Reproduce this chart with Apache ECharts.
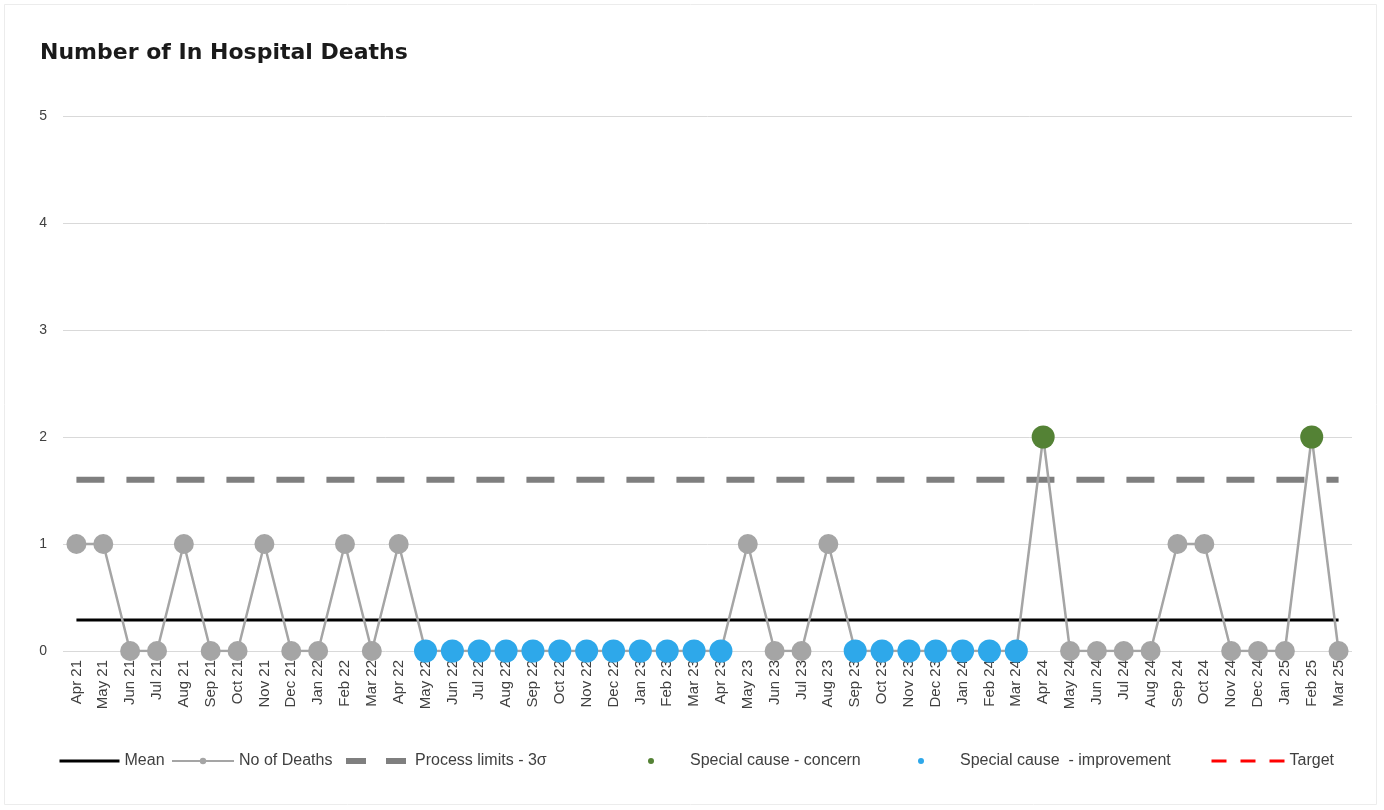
<!DOCTYPE html>
<html>
<head>
<meta charset="utf-8">
<title>Number of In Hospital Deaths</title>
<script src="https://cdn.jsdelivr.net/npm/echarts@6/dist/echarts.min.js"></script>
<style>
    html, body { margin: 0; padding: 0; background: #fff; }
    #chart { width: 1384px; height: 810px; }
</style>
</head>
<body>
<div id="chart"></div>
<script>
var categories = ['Apr 21', 'May 21', 'Jun 21', 'Jul 21', 'Aug 21', 'Sep 21', 'Oct 21', 'Nov 21', 'Dec 21',
    'Jan 22', 'Feb 22', 'Mar 22', 'Apr 22', 'May 22', 'Jun 22', 'Jul 22', 'Aug 22', 'Sep 22', 'Oct 22',
    'Nov 22', 'Dec 22', 'Jan 23', 'Feb 23', 'Mar 23', 'Apr 23', 'May 23', 'Jun 23', 'Jul 23', 'Aug 23',
    'Sep 23', 'Oct 23', 'Nov 23', 'Dec 23', 'Jan 24', 'Feb 24', 'Mar 24', 'Apr 24', 'May 24', 'Jun 24',
    'Jul 24', 'Aug 24', 'Sep 24', 'Oct 24', 'Nov 24', 'Dec 24', 'Jan 25', 'Feb 25', 'Mar 25'];
var deaths = [1, 1, 0, 0, 1, 0, 0, 1, 0, 0, 1, 0, 1,
    0, 0, 0, 0, 0, 0, 0, 0, 0, 0, 0, 0,
    1, 0, 0, 1,
    0, 0, 0, 0, 0, 0, 0,
    2, 0, 0, 0, 0, 1, 1, 0, 0, 0, 2, 0];
var concernMonths = ['Apr 24', 'Feb 25'];
var improvementMonths = ['May 22', 'Jun 22', 'Jul 22', 'Aug 22', 'Sep 22', 'Oct 22', 'Nov 22', 'Dec 22',
    'Jan 23', 'Feb 23', 'Mar 23', 'Apr 23', 'Sep 23', 'Oct 23', 'Nov 23', 'Dec 23', 'Jan 24', 'Feb 24', 'Mar 24'];
var meanValue = 0.29;
var upperLimit = 1.6;
var yTicks = [0, 5, 1]; // min, max, interval

var chart = echarts.init(document.getElementById('chart'));

function pick(months) {
    return months.map(function (m) {
        return [m, deaths[categories.indexOf(m)]];
    });
}

var font = 'Liberation Sans, Arial, sans-serif';

// one legend per entry so each sits where the original put it
function legendAt(name, left, w, h, extra) {
    var lg = {
        data: [name],
        left: left,
        top: 753,
        itemWidth: w,
        itemHeight: h,
        itemGap: 0,
        padding: 0,
        selectedMode: false,
        textStyle: { color: '#404040', fontSize: 16, fontFamily: font }
    };
    for (var k in extra) {
        lg[k] = extra[k];
    }
    return lg;
}

var option = {
    backgroundColor: '#fff',
    animation: false,
    title: {
        text: 'Number of In Hospital Deaths',
        left: 35,
        top: 37,
        textStyle: { fontFamily: 'DejaVu Sans, sans-serif', fontWeight: 'bold', fontSize: 22, color: '#1a1a1a' }
    },
    graphic: [{
        type: 'rect',
        shape: { x: 4.5, y: 4.5, width: 1372, height: 800 },
        style: { fill: 'none', stroke: '#ececec', lineWidth: 1 },
        silent: true
    }],
    legend: [
        legendAt('Mean', 58, 60, 10, {
            itemStyle: { opacity: 0 },
            lineStyle: { width: 3 }
        }),
        legendAt('No of Deaths', 171, 62, 8, {
            lineStyle: { width: 2 }
        }),
        legendAt('Process limits - 3σ', 343, 64, 10, {
            itemStyle: { opacity: 0 },
            lineStyle: { width: 6, type: [20, 20] }
        }),
        legendAt('Special cause - concern', 648, 6, 6, {
            textStyle: { color: '#404040', fontSize: 16, fontFamily: font, padding: [0, 0, 0, 31] }
        }),
        legendAt('Special cause  - improvement', 918, 6, 6, {
            textStyle: { color: '#404040', fontSize: 16, fontFamily: font, padding: [0, 0, 0, 31] }
        }),
        legendAt('Target', 1210, 73, 10, {
            itemStyle: { opacity: 0 },
            lineStyle: { width: 3, type: [15, 14] }
        })
    ],
    grid: { left: 63, right: 32, top: 116, bottom: 159 },
    xAxis: {
        type: 'category',
        data: categories,
        boundaryGap: true,
        axisLine: { show: false },
        axisTick: { show: false },
        axisLabel: {
            interval: 0,
            rotate: 90,
            margin: 9,
            color: '#404040',
            fontSize: 15,
            fontFamily: font
        }
    },
    yAxis: {
        type: 'value',
        min: yTicks[0],
        max: yTicks[1],
        interval: yTicks[2],
        axisLine: { show: false },
        axisTick: { show: false },
        axisLabel: { color: '#404040', fontSize: 14, fontFamily: font, margin: 16 },
        splitLine: { lineStyle: { color: '#d9d9d9', width: 1 } }
    },
    series: [
        {
            name: 'Mean',
            type: 'line',
            data: categories.map(function () { return meanValue; }),
            symbol: 'none',
            lineStyle: { color: '#000', width: 3 },
            itemStyle: { color: '#000' },
            z: 2
        },
        {
            name: 'Process limits - 3σ',
            type: 'line',
            data: categories.map(function () { return upperLimit; }),
            symbol: 'none',
            lineStyle: { color: '#7f7f7f', width: 6, type: [28, 22] },
            itemStyle: { color: '#7f7f7f' },
            z: 2
        },
        {
            name: 'No of Deaths',
            type: 'line',
            data: deaths,
            symbol: 'circle',
            symbolSize: 20,
            lineStyle: { color: '#a5a5a5', width: 2.5 },
            itemStyle: { color: '#a5a5a5' },
            z: 3
        },
        {
            name: 'Special cause - concern',
            type: 'scatter',
            data: pick(concernMonths),
            symbolSize: 23,
            itemStyle: { color: '#548235', opacity: 1 },
            z: 4
        },
        {
            name: 'Special cause  - improvement',
            type: 'scatter',
            data: pick(improvementMonths),
            symbolSize: 23,
            itemStyle: { color: '#2ea8ea', opacity: 1 },
            z: 4
        },
        {
            name: 'Target',
            type: 'line',
            data: [],
            symbol: 'none',
            lineStyle: { color: '#ff0000', width: 3, type: [15, 14] },
            itemStyle: { color: '#ff0000' }
        }
    ]
};

chart.setOption(option);
</script>
</body>
</html>
